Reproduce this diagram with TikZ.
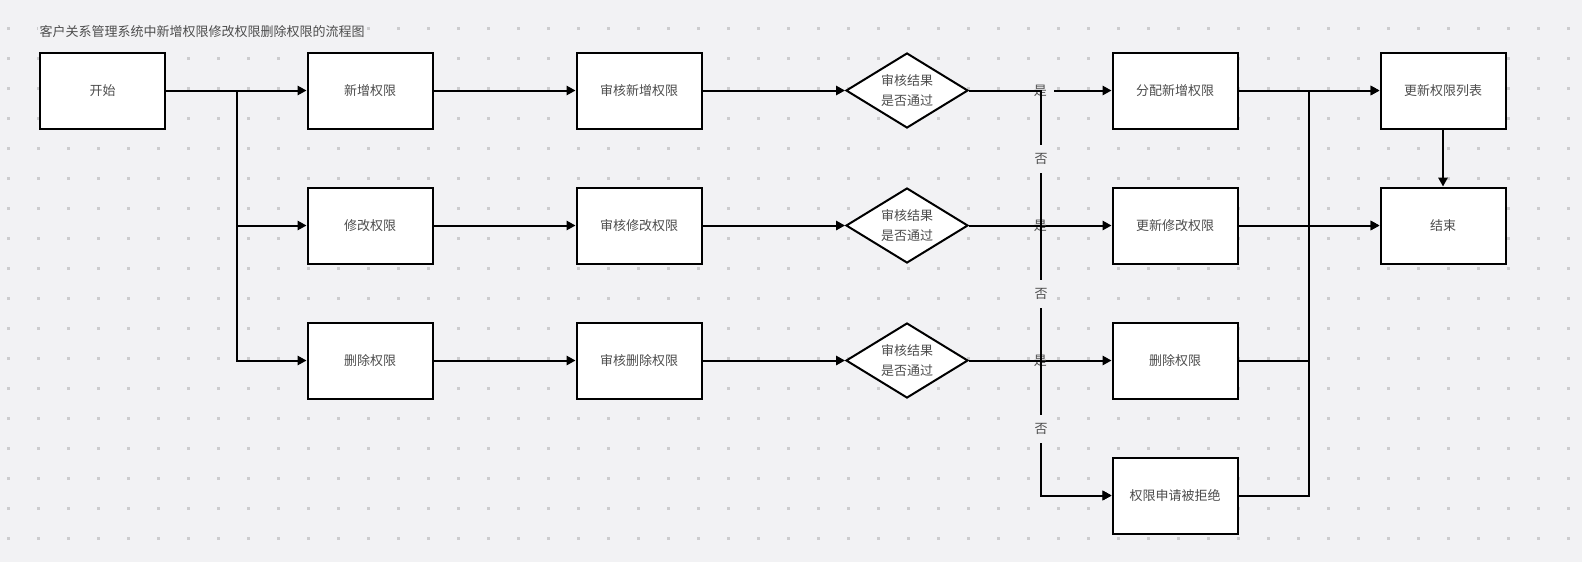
\documentclass[tikz,border=0pt]{standalone}
\usepackage{fontspec}
\setmainfont{Noto Sans CJK SC}
\usetikzlibrary{arrows.meta,shapes.geometric,calc}
\definecolor{canvas}{HTML}{F2F2F4}
\definecolor{griddot}{HTML}{CCCCCE}
\definecolor{ink}{HTML}{4D4D4D}
\tikzset{
  txt/.style={text=ink, font=\fontsize{9.75pt}{15pt}\selectfont},
  box/.style={txt, draw=black, fill=white, line width=1.5pt,
    minimum width=93.75pt, minimum height=57pt, inner sep=0pt},
  decide/.style={txt, diamond, draw=black, fill=white, line width=1.5pt,
    minimum width=91.5pt, minimum height=56.25pt, inner sep=0pt,
    shape aspect=1.6, align=center},
  link/.style={line width=1.5pt},
  flow/.style={link, -{Triangle[length=6.75pt,width=7pt]}},
  lab/.style={txt, inner sep=0pt, minimum size=21pt, fill=canvas},
}
\begin{document}
\begin{tikzpicture}[x=0.75pt,y=-0.75pt]
  % canvas and dot grid
  \fill[canvas] (0,0) rectangle (1582,562);
  \useasboundingbox (0,0) rectangle (1582,562);
  \foreach \i in {0,...,52}
    \foreach \j in {0,...,17}
      \fill[griddot] ({8+30*\i-1.5},{28+30*\j-1.5}) rectangle +(3,3);

  % title
  \node[txt, anchor=west, fill=canvas, inner sep=1pt] (title) at (38,32)
    {客户关系管理系统中新增权限修改权限删除权限的流程图};

  % helper columns for routing
  \coordinate (split) at (237,0);
  \coordinate (nocol) at (1041,0);
  \coordinate (merge) at (1309,0);

  % nodes
  \node[box] (start) at (102.5,90.5) {开始};
  \node[box] (add)   at (370,90.5)  {新增权限};
  \node[box] (mod)   at (370,225.5) {修改权限};
  \node[box] (del)   at (370,360.5) {删除权限};
  \node[box] (radd)  at (639,90.5)  {审核新增权限};
  \node[box] (rmod)  at (639,225.5) {审核修改权限};
  \node[box] (rdel)  at (639,360.5) {审核删除权限};
  \node[decide] (dadd) at (907,90.5)  {审核结果\\是否通过};
  \node[decide] (dmod) at (907,225.5) {审核结果\\是否通过};
  \node[decide] (ddel) at (907,360.5) {审核结果\\是否通过};
  \node[box] (gadd)  at (1175,90.5)  {分配新增权限};
  \node[box] (gmod)  at (1175,225.5) {更新修改权限};
  \node[box] (gdel)  at (1175,360.5) {删除权限};
  \node[box] (rej)   at (1175,495.5) {权限申请被拒绝};
  \node[box] (upd)   at (1443,90.5)  {更新权限列表};
  \node[box] (finish) at (1443,225.5) {结束};

  % start fans out to the three operations
  \draw[flow] (start) -- (add);
  \draw[flow] (start.east) -- (start.east -| split) |- (mod.west);
  \draw[flow] (start.east) -- (start.east -| split) |- (del.west);

  % operation -> review -> decision
  \draw[flow] (add) -- (radd);
  \draw[flow] (mod) -- (rmod);
  \draw[flow] (del) -- (rdel);
  \draw[flow] (radd) -- (dadd);
  \draw[flow] (rmod) -- (dmod);
  \draw[flow] (rdel) -- (ddel);

  % approved branches
  \draw[flow] (dmod) -- node[lab, fill=none] {是} (gmod);
  \draw[flow] (ddel) -- node[lab, fill=none] {是} (gdel);
  \draw[flow] (dadd) -- node[lab] {是} (gadd);

  % rejected branches
  \draw[flow] (dadd.east) -- (dadd.east -| nocol)
    -- ($(dadd.east -| nocol)+(0,68)$) node[lab] {否}
    -- (nocol |- rej.west) -- (rej.west);
  \draw[flow] (dmod.east) -- (dmod.east -| nocol)
    -- ($(dmod.east -| nocol)+(0,68)$) node[lab] {否}
    -- (nocol |- rej.west) -- (rej.west);
  \draw[flow] (ddel.east) -- (ddel.east -| nocol)
    -- ($(ddel.east -| nocol)+(0,68)$) node[lab] {否}
    -- (nocol |- rej.west) -- (rej.west);

  % results merge into the list update and the end
  \draw[flow] (gadd) -- (upd);
  \draw[flow] (gmod) -- (finish);
  \draw[flow] (gdel.east) -- (gdel.east -| merge) |- (upd.west);
  \draw[flow] (rej.east) -- (rej.east -| merge) |- (finish.west);
  \draw[flow] (upd) -- (finish);
\end{tikzpicture}
\end{document}
